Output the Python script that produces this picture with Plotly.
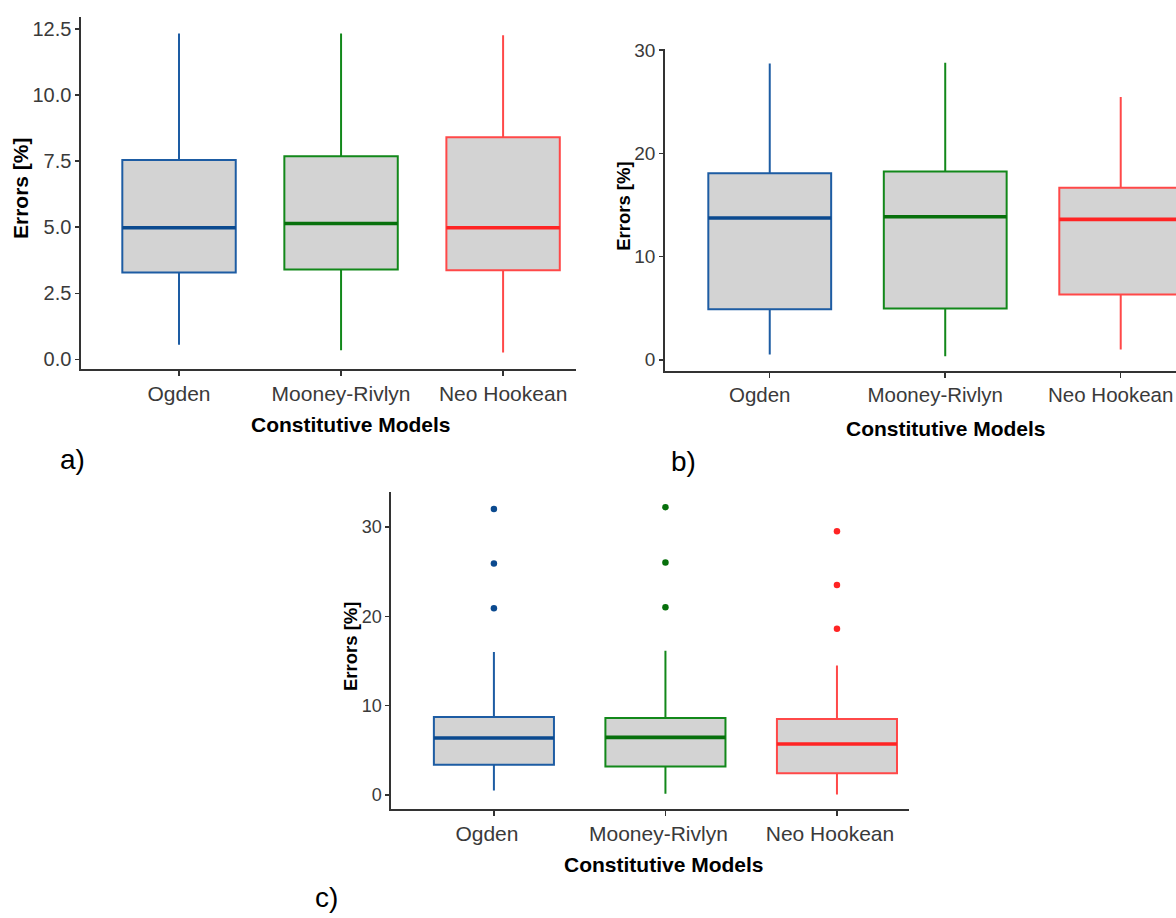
import plotly.graph_objects as go

# ---------------- DATA ----------------
models = ["Ogden", "Mooney-Rivlyn", "Neo Hookean"]

# panel a)
a_low = [0.56, 0.35, 0.26]
a_q1 = [3.29, 3.40, 3.37]
a_med = [4.98, 5.14, 4.98]
a_q3 = [7.54, 7.68, 8.40]
a_high = [12.32, 12.32, 12.26]
a_ticks = [0, 2.5, 5, 7.5, 10, 12.5]

# panel b)
b_low = [0.51, 0.35, 0.99]
b_q1 = [4.89, 4.98, 6.33]
b_med = [13.74, 13.87, 13.61]
b_q3 = [18.08, 18.24, 16.68]
b_high = [28.72, 28.79, 25.46]
b_ticks = [0, 10, 20, 30]

# panel c)
c_low = [0.52, 0.15, 0.07]
c_q1 = [3.39, 3.21, 2.43]
c_med = [6.38, 6.45, 5.71]
c_q3 = [8.74, 8.63, 8.51]
c_high = [16.0, 16.14, 14.49]
c_outliers = [[32.0, 25.9, 20.9], [32.2, 26.0, 21.0], [29.5, 23.5, 18.6]]
c_ticks = [0, 10, 20, 30]

x_title = "Constitutive Models"
y_title = "Errors [%]"
panel_labels = ["a)", "b)", "c)"]

# ---------------- STYLE ----------------
W, H = 1176, 918
FONT = "Liberation Sans, Arial, sans-serif"
line_cols = ["#1d5ca3", "#12881a", "#ff4848"]
med_cols = ["#0b4a8f", "#07700c", "#ff2424"]
fill_col = "#d3d3d3"
axis_col = "#333333"
tick_text_col = "#3a3a3a"
BOXW = 0.7


def px(x):
    return x / W


def py(y):
    return 1 - y / H


fig = go.Figure()

panels = [
    dict(ax="", low=a_low, q1=a_q1, med=a_med, q3=a_q3, high=a_high, out=None,
         ticks=a_ticks, fmt=".1f", xshift=0, xtf=21,
         xdom=(81, 576), ydom=(364.3, 8.3), xr=(-0.605, 2.45), yr=(-0.374, 12.94),
         ytf=20, ytitle_size=21, ytitle_pos=(20, 181), xtitle_pos=(351, 420),
         lab_pos=(58, 455)),
    dict(ax="2", low=b_low, q1=b_q1, med=b_med, q3=b_q3, high=b_high, out=None,
         ticks=b_ticks, fmt="d", xshift=-10, xtf=20.5,
         xdom=(664.8, 1176), ydom=(366, 40), xr=(-0.598, 2.315), yr=(-1.083, 30.16),
         ytf=19, ytitle_size=18.5, ytitle_pos=(624, 200), xtitle_pos=(946, 424),
         lab_pos=(669, 457)),
    dict(ax="3", low=c_low, q1=c_q1, med=c_med, q3=c_q3, high=c_high, out=c_outliers,
         ticks=c_ticks, fmt="d", xshift=-7, xtf=21,
         xdom=(391, 909), ydom=(809.3, 488.3), xr=(-0.60, 2.42), yr=(-1.61, 33.9),
         ytf=18, ytitle_size=18.5, ytitle_pos=(351, 645), xtitle_pos=(664, 865),
         lab_pos=(313, 898)),
]

annotations = []
layout_axes = {}
for k, p in enumerate(panels):
    xa = "x" + p["ax"]
    ya = "y" + p["ax"]
    for i, m in enumerate(models):
        fig.add_trace(go.Box(
            x=[i], q1=[p["q1"][i]], median=[p["med"][i]], q3=[p["q3"][i]],
            lowerfence=[p["low"][i]], upperfence=[p["high"][i]],
            width=BOXW, whiskerwidth=0, boxpoints=False,
            fillcolor=fill_col, line=dict(color=line_cols[i], width=2),
            name=m, xaxis=xa, yaxis=ya, hoverinfo="skip",
        ))
        fig.add_trace(go.Scatter(
            x=[i - BOXW / 2, i + BOXW / 2], y=[p["med"][i], p["med"][i]],
            mode="lines", line=dict(color=med_cols[i], width=3.6),
            xaxis=xa, yaxis=ya, hoverinfo="skip",
        ))
        if p["out"] is not None:
            fig.add_trace(go.Scatter(
                x=[i] * len(p["out"][i]), y=p["out"][i], mode="markers",
                marker=dict(color=med_cols[i], size=6.5),
                xaxis=xa, yaxis=ya, hoverinfo="skip",
            ))

    xkey = "xaxis" + p["ax"]
    ykey = "yaxis" + p["ax"]
    layout_axes[xkey] = dict(
        domain=[px(p["xdom"][0]), px(p["xdom"][1])], range=list(p["xr"]),
        anchor=ya, tickmode="array", tickvals=list(range(len(models))), ticktext=models,
        showline=True, linecolor=axis_col, linewidth=1.6, mirror=False,
        ticks="outside", ticklen=5, tickwidth=1.5, tickcolor=axis_col,
        showgrid=False, zeroline=False, ticklabeloverflow="allow",
        ticklabelshift=p["xshift"],
        tickfont=dict(family=FONT, size=p["xtf"], color=tick_text_col),
    )
    layout_axes[ykey] = dict(
        domain=[py(p["ydom"][0]), py(p["ydom"][1])], range=list(p["yr"]),
        anchor=xa, tickmode="array", tickvals=p["ticks"],
        ticktext=[format(t, p["fmt"]) if p["fmt"] != "d" else str(int(t)) for t in p["ticks"]],
        showline=True, linecolor=axis_col, linewidth=1.6,
        ticks="outside", ticklen=4, tickwidth=1.5, tickcolor=axis_col,
        showgrid=False, zeroline=False,
        tickfont=dict(family=FONT, size=p["ytf"], color=tick_text_col),
    )
    annotations.append(dict(
        text="<b>%s</b>" % x_title, x=px(p["xtitle_pos"][0]), y=py(p["xtitle_pos"][1]),
        xref="paper", yref="paper", xanchor="center", yanchor="middle", showarrow=False,
        font=dict(family=FONT, size=21, color="#000000"),
    ))
    annotations.append(dict(
        text="<b>%s</b>" % y_title, x=px(p["ytitle_pos"][0]), y=py(p["ytitle_pos"][1]),
        xref="paper", yref="paper", xanchor="center", yanchor="middle", showarrow=False,
        textangle=-90, font=dict(family=FONT, size=p["ytitle_size"], color="#000000"),
    ))
    annotations.append(dict(
        text=panel_labels[k], x=px(p["lab_pos"][0]), y=py(p["lab_pos"][1]),
        xref="paper", yref="paper", xanchor="left", yanchor="middle", showarrow=False,
        font=dict(family=FONT, size=28, color="#000000"),
    ))

fig.update_layout(
    width=W, height=H, margin=dict(l=0, r=0, t=0, b=0),
    paper_bgcolor="white", plot_bgcolor="white", showlegend=False,
    annotations=annotations, **layout_axes,
)

fig.write_html(
    "out.html",
    config={"displayModeBar": False, "staticPlot": True},
    post_script="document.body.style.margin='0';document.body.style.overflow='hidden';",
)
